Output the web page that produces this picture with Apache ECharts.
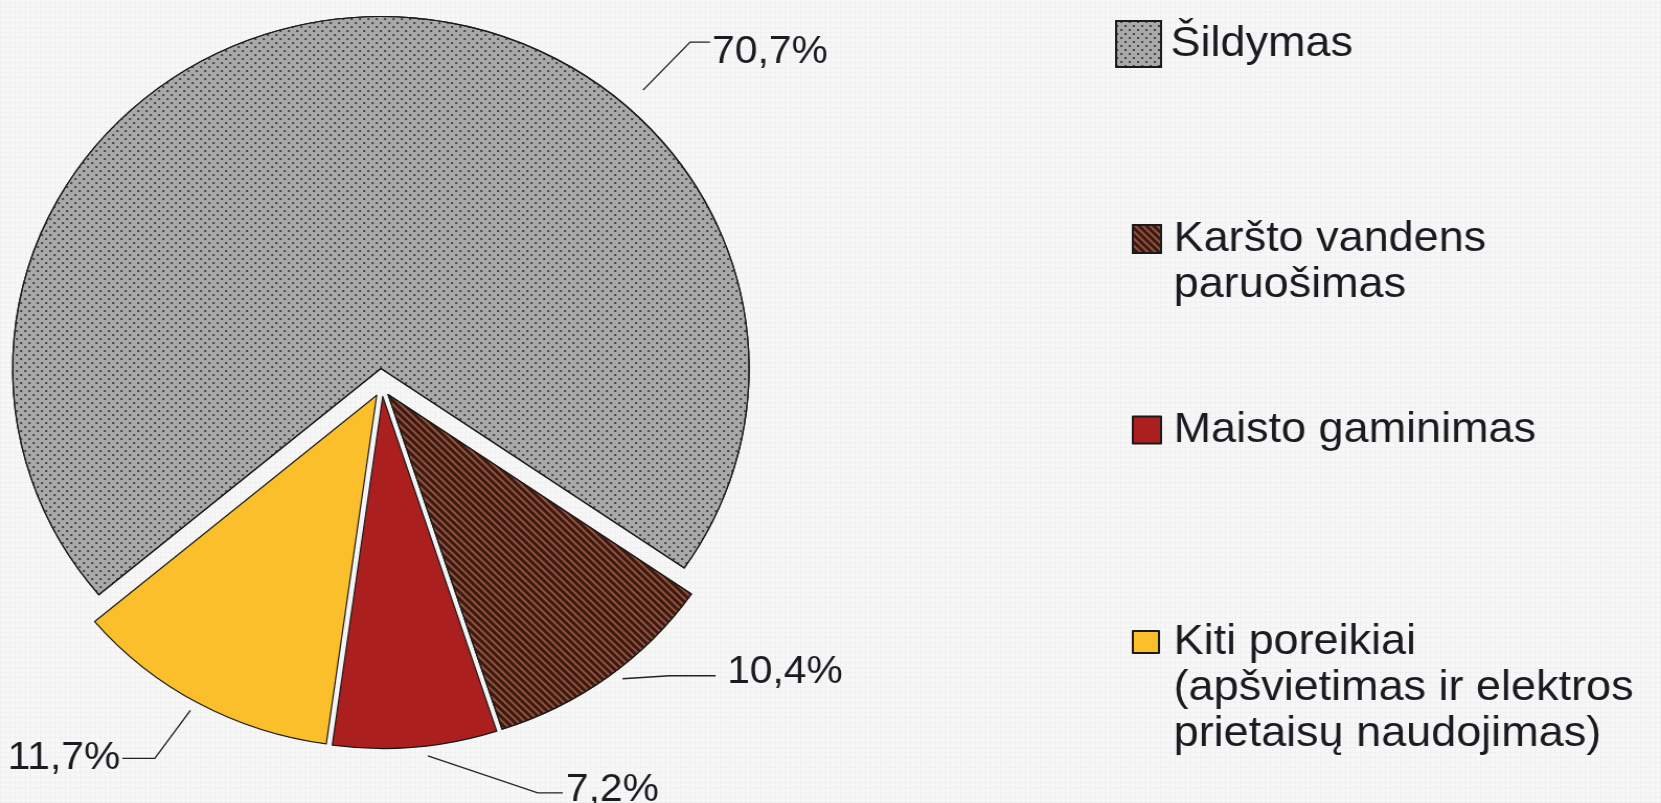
<!DOCTYPE html>
<html><head><meta charset="utf-8">
<script src="https://cdn.jsdelivr.net/npm/echarts@6/dist/echarts.min.js"></script>
<style>
html,body{margin:0;padding:0;overflow:hidden;}
body{background-color:#f7f7f7;
  background-image:repeating-linear-gradient(0deg, rgba(0,0,0,0.022) 0 1px, transparent 1px 5px),
                   repeating-linear-gradient(90deg, rgba(0,0,0,0.022) 0 1px, transparent 1px 5px);}
#wrap{width:1661px;height:803px;overflow:hidden;}
#main{width:1588px;height:803px;transform:scaleX(1.046);transform-origin:0 0;}
</style></head><body><div id="wrap"><div id="main"></div></div>
<script>
// ---- data ----
const categories = ['Šildymas', 'Karšto vandens paruošimas', 'Maisto gaminimas', 'Kiti poreikiai (apšvietimas ir elektros prietaisų naudojimas)'];
const legendLines = [['Šildymas'], ['Karšto vandens', 'paruošimas'], ['Maisto gaminimas'], ['Kiti poreikiai', '(apšvietimas ir elektros', 'prietaisų naudojimas)']];
const values = [70.7, 10.4, 7.2, 11.7];
const valueLabels = ['70,7%', '10,4%', '7,2%', '11,7%'];

// ---- styles / layout ----
const colors = ['#a9a9a9', '#93523d', '#ac1f1f', '#fcbf2c'];
const decals = [
  {symbol: 'rect', symbolSize: 1, dashArrayX: [[2, 6], [0, 4, 2, 2]], dashArrayY: [2, 2], color: 'rgba(40,40,40,0.8)'},
  {symbol: 'rect', symbolSize: 1, dashArrayX: [1, 0], dashArrayY: [3, 2], rotation: Math.PI / 4, color: '#3b1a12'},
  null, null
];
const CX = 365, CY = 386.5, R = 352, START = 220;
const BIG_OFF = 18, SMALL_OFF = 10;
const FONT = 'Liberation Sans, Arial, sans-serif';
const TXT = '#1a1a20';
const labelSpecs = [
  {angle: 46, gap: 10, d1: [45, -48], d2: 19, tx: 2, dy: 10, align: 'left'},
  {angle: -51.7, gap: 0, d1: [45, -3], d2: 44, tx: 11, dy: -4, align: 'left'},
  {angle: -83.1, gap: 0, d1: [105, 37], d2: 24, tx: 3, dy: -3, align: 'left'},
  {angle: -119.5, gap: 0, d1: [-34, 48], d2: -31, tx: -2, dy: 0, align: 'right'}
];
const legendSpecs = [
  {iconW: 43, iconH: 46, iconRight: 1109, textPad: 4, centerY: 43},
  {iconW: 27, iconH: 28, iconRight: 1109, textPad: 7, centerY: 239},
  {iconW: 27, iconH: 27, iconRight: 1109, textPad: 7, centerY: 430},
  {iconW: 25, iconH: 22, iconRight: 1107, textPad: 9, centerY: 642}
];
const LEG_FONT = 43, LEG_LH = 46;

const total = values.reduce((a, b) => a + b, 0);
const rad = d => d * Math.PI / 180;
function sliceGeom(k) {
  let before = 0;
  for (let i = 0; i < k; i++) before += values[i];
  const s = START - before / total * 360;
  const e = s - values[k] / total * 360;
  const mid = (s + e) / 2;
  const off = k === 0 ? BIG_OFF : SMALL_OFF;
  return {vx: CX + off * Math.cos(rad(mid)), vy: CY - off * Math.sin(rad(mid))};
}
function layoutFor(k, params) {
  const g = sliceGeom(k), sp = labelSpecs[k];
  const rr = R + sp.gap;
  const p0 = [g.vx + rr * Math.cos(rad(sp.angle)), g.vy - rr * Math.sin(rad(sp.angle))];
  const p1 = [p0[0] + sp.d1[0], p0[1] + sp.d1[1]];
  const p2 = [p1[0] + sp.d2, p1[1]];
  const wantX = p2[0] + sp.tx, wantY = p2[1] + sp.dy;
  const r = params.labelRect;
  const curX = sp.align === 'left' ? r.x : r.x + r.width;
  const curY = r.y + r.height / 2;
  return {dx: wantX - curX, dy: wantY - curY, labelLinePoints: [p0, p1, p2]};
}

function item(k) {
  return {
    name: categories[k], value: values[k], selected: true,
    itemStyle: {color: colors[k], decal: decals[k] || undefined, borderColor: '#1a1a1a', borderWidth: 1.2},
    label: {formatter: valueLabels[k]}
  };
}
function placeholder(name, v) {
  return {name: name, value: v, selected: false,
    itemStyle: {color: 'rgba(0,0,0,0)', borderWidth: 0, decal: null},
    label: {show: false}, labelLine: {show: false}};
}
const common = {
  type: 'pie', center: [CX, CY], radius: R, silent: true, animation: false,
  selectedMode: 'multiple', avoidLabelOverlap: false, clockwise: true,
  emphasis: {disabled: true},
  label: {show: true, position: 'outside', fontSize: 39, fontFamily: FONT, color: TXT},
  labelLine: {show: true, length: 10, length2: 10, lineStyle: {color: '#222', width: 1.4}}
};
const series = [
  Object.assign({}, common, {
    startAngle: START, selectedOffset: BIG_OFF,
    data: [item(0), placeholder('_restA', total - values[0])],
    labelLayout: p => p.dataIndex === 0 ? layoutFor(0, p) : {}
  }),
  Object.assign({}, common, {
    startAngle: START - values[0] / total * 360, selectedOffset: SMALL_OFF,
    data: [item(1), item(2), item(3), placeholder('_restB', values[0])],
    labelLayout: p => p.dataIndex < 3 ? layoutFor(p.dataIndex + 1, p) : {}
  })
];

const legends = categories.map((name, k) => {
  const sp = legendSpecs[k], n = legendLines[k].length;
  const pad = new Array(n).join('\n');
  return {
    data: [name], orient: 'vertical', selectedMode: false, padding: 0,
    left: sp.iconRight - sp.iconW, top: sp.centerY - (2 * n - 1) * LEG_LH / 2,
    itemWidth: sp.iconW, itemHeight: sp.iconH, icon: 'rect',
    formatter: () => pad + legendLines[k].join('\n'),
    textStyle: {fontSize: LEG_FONT, lineHeight: LEG_LH, fontFamily: FONT, color: TXT,
      padding: [0, 0, 0, sp.textPad]}
  };
});

const chart = echarts.init(document.getElementById('main'), null, {renderer: 'canvas'});
chart.setOption({backgroundColor: 'transparent', animation: false, legend: legends, series: series});
</script></body></html>
